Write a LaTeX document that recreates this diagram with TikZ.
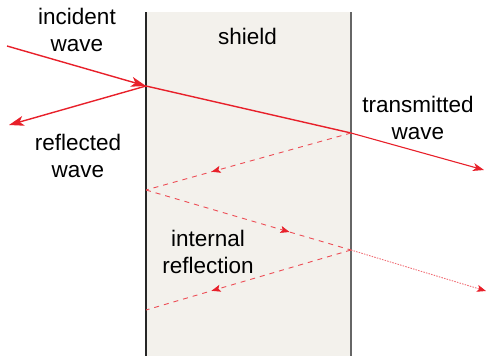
\documentclass[tikz,border=0pt]{standalone}
\usepackage{fontspec}
\setmainfont{Liberation Sans}
\usetikzlibrary{arrows.meta,decorations.markings}
\definecolor{ray}{HTML}{E8202A}
\definecolor{shieldfill}{HTML}{F3F1EC}
\tikzset{
  lbl/.style={align=center, font=\fontsize{22.5}{27}\selectfont, inner sep=0pt},
  mainray/.style={draw=ray, line width=1.4pt, -{Stealth[length=15pt,width=10pt,inset=4pt]}},
  plainray/.style={draw=ray, line width=1.4pt},
  innerray/.style={draw=ray!80, line width=0.9pt, dash pattern=on 5pt off 5pt,
    postaction=decorate},
  midarrow/.style={decoration={markings, mark=at position #1 with
    {\arrow[ray, line width=0.6pt]{Stealth[length=9pt,width=7pt,inset=2pt]}}}},
  leakray/.style={draw=ray!65, line width=0.9pt, dash pattern=on 1.5pt off 1.2pt,
    -{Stealth[length=9pt,width=7pt,inset=2pt,color=ray]}},
}
\begin{document}
\begin{tikzpicture}[x=1pt,y=-1pt]
\useasboundingbox (0,0) rectangle (487,356);
% shield slab
\fill[shieldfill] (146,12) rectangle (351,356);
\draw[black!85, line width=1.3pt] (146,12) -- (146,356);
\draw[black!60, line width=1.3pt] (351,12) -- (351,356);

% points on the faces and free ends
\coordinate (S) at (7,46);
\coordinate (A) at (146,86);
\coordinate (R) at (9,125);
\coordinate (B) at (351,133);
\coordinate (T) at (484,170);
\coordinate (C) at (146,190);
\coordinate (D) at (351,250);
\coordinate (E) at (146,310);
\coordinate (U) at (486,291);

% incident, reflected and transmitted waves
\path[mainray] (S) -- (A);
\path[mainray] (A) -- (R);
\path[plainray] (A) -- (B);
\path[draw=ray, line width=1.1pt, -{Stealth[length=11pt,width=8pt,inset=3pt]}] (B) -- (T);

% internal reflections
\path[innerray, midarrow=0.68] (B) -- (C);
\path[innerray, midarrow=0.70] (C) -- (D);
\path[innerray, midarrow=0.68] (D) -- (E);
\path[leakray] (D) -- (U);

% labels
\node[lbl] (inc) at (77,30) {incident\\wave};
\node[lbl] (refl) at (78,156) {reflected\\wave};
\node[lbl] (sh) at (247.5,36) {shield};
\node[lbl] (trans) at (418,118) {transmitted\\wave};
\node[lbl] (intr) at (208,252) {internal\\reflection};
\end{tikzpicture}
\end{document}
